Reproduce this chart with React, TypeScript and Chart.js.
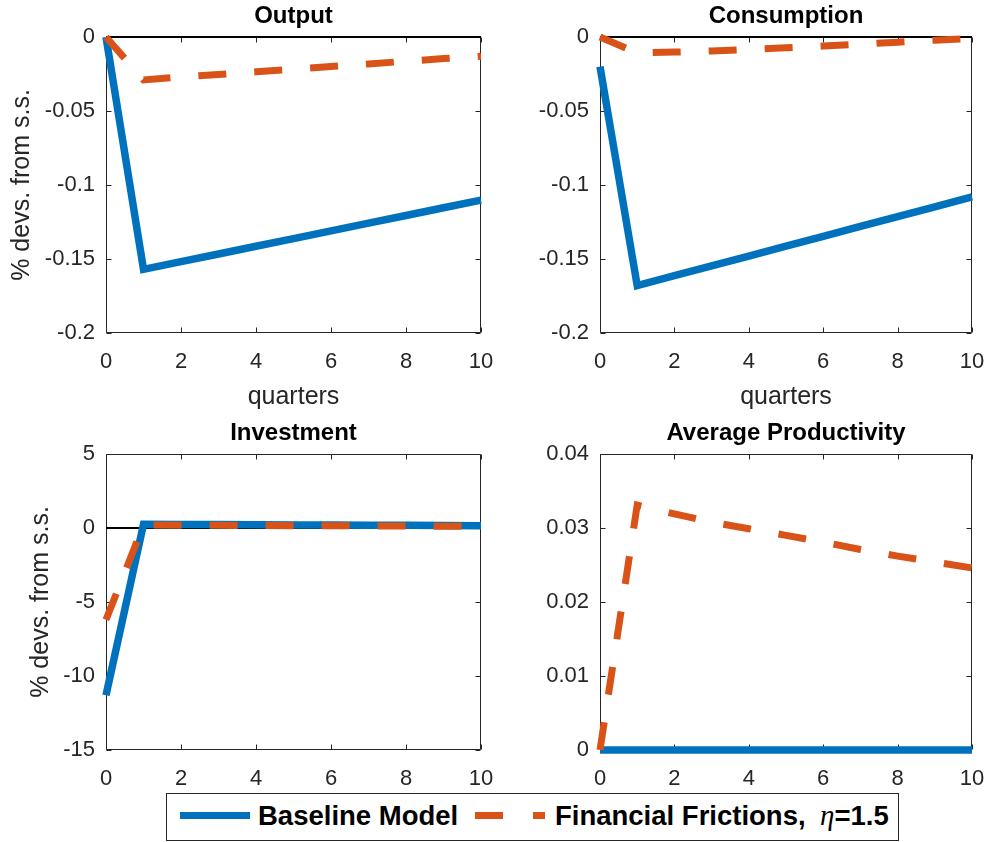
import React, { useEffect, useRef } from "react";
import { Chart, registerables } from "chart.js";

Chart.register(...registerables);

// ---------------- data ----------------
const quarters = [0, 1, 2, 3, 4, 5, 6, 7, 8, 9, 10];
const xTickValues = [0, 2, 4, 6, 8, 10];
const xTickLabels = ["0", "2", "4", "6", "8", "10"];

const outputBaseline = [0, -0.157, -0.1518, -0.1466, -0.1414, -0.1362, -0.131, -0.1258, -0.1206, -0.1154, -0.1102];
const outputFF = [0, -0.029, -0.027, -0.0253, -0.0235, -0.0218, -0.02, -0.0182, -0.0164, -0.0146, -0.013];

const consumptionBaseline = [-0.02, -0.168, -0.1613, -0.1547, -0.148, -0.1413, -0.1347, -0.128, -0.1213, -0.1147, -0.108];
const consumptionFF = [0, -0.0108, -0.0102, -0.0094, -0.0084, -0.0073, -0.0061, -0.0048, -0.0035, -0.0022, -0.001];

const investmentBaseline = [-11.3, 0.25, 0.24, 0.23, 0.22, 0.21, 0.2, 0.19, 0.18, 0.17, 0.16];
const investmentFF = [-6.2, 0.2, 0.19, 0.18, 0.17, 0.16, 0.15, 0.14, 0.13, 0.12, 0.11];

const productivityBaseline = [0, 0, 0, 0, 0, 0, 0, 0, 0, 0, 0];
const productivityFF = [0, 0.0331, 0.0319, 0.0308, 0.0299, 0.029, 0.0281, 0.0271, 0.0262, 0.0254, 0.0246];

const outputYTicks = [-0.2, -0.15, -0.1, -0.05, 0];
const outputYLabels = ["-0.2", "-0.15", "-0.1", "-0.05", "0"];
const consumptionYTicks = [-0.2, -0.15, -0.1, -0.05, 0];
const consumptionYLabels = ["-0.2", "-0.15", "-0.1", "-0.05", "0"];
const investmentYTicks = [-15, -10, -5, 0, 5];
const investmentYLabels = ["-15", "-10", "-5", "0", "5"];
const productivityYTicks = [0, 0.01, 0.02, 0.03, 0.04];
const productivityYLabels = ["0", "0.01", "0.02", "0.03", "0.04"];

const panelTitles = ["Output", "Consumption", "Investment", "Average Productivity"];
const xAxisTitle = "quarters";
const yAxisTitle = "% devs. from s.s.";
const seriesNames = ["Baseline Model", "Financial Frictions, "];
const etaLabel = "η";
const etaValue = "=1.5";

// ---------------- style ----------------
const BLUE = "#0072BD";
const ORANGE = "#D95319";
const AXIS = "#262626";
const FONT = "'Liberation Sans', Arial, Helvetica, sans-serif";

type Panel = {
  title: string;
  baseline: number[];
  ff: number[];
  yTicks: number[];
  yLabels: string[];
  showXTitle: boolean;
  showYTitle: boolean;
  yTitlePad: number;
  left: number;
  top: number;
  width: number;
  height: number;
  yAxisWidth: number;
  xAxisHeight: number;
  padRight: number;
};

const panels: Panel[] = [
  {
    title: panelTitles[0], baseline: outputBaseline, ff: outputFF,
    yTicks: outputYTicks, yLabels: outputYLabels,
    showXTitle: true, showYTitle: true, yTitlePad: 7,
    left: 0, top: 0, width: 513, height: 412, yAxisWidth: 106, xAxisHeight: 79, padRight: 32,
  },
  {
    title: panelTitles[1], baseline: consumptionBaseline, ff: consumptionFF,
    yTicks: consumptionYTicks, yLabels: consumptionYLabels,
    showXTitle: true, showYTitle: false, yTitlePad: 0,
    left: 490, top: 0, width: 514, height: 412, yAxisWidth: 110, xAxisHeight: 79, padRight: 32,
  },
  {
    title: panelTitles[2], baseline: investmentBaseline, ff: investmentFF,
    yTicks: investmentYTicks, yLabels: investmentYLabels,
    showXTitle: false, showYTitle: true, yTitlePad: 26,
    left: 0, top: 417, width: 513, height: 376, yAxisWidth: 106, xAxisHeight: 43, padRight: 32,
  },
  {
    title: panelTitles[3], baseline: productivityBaseline, ff: productivityFF,
    yTicks: productivityYTicks, yLabels: productivityYLabels,
    showXTitle: false, showYTitle: false, yTitlePad: 0,
    left: 490, top: 417, width: 514, height: 376, yAxisWidth: 110, xAxisHeight: 43, padRight: 32,
  },
];

const boxPlugin = {
  id: "matlabBox",
  beforeDatasetsDraw(chart: any) {
    const { ctx, chartArea: a, scales } = chart;
    const L = Math.round(a.left) + 0.5;
    const R = Math.round(a.right) - 0.5;
    const T = Math.round(a.top) + 0.5;
    const B = Math.round(a.bottom) - 0.5;
    const tl = 5;
    ctx.save();
    ctx.strokeStyle = AXIS;
    ctx.lineWidth = 1;
    ctx.beginPath();
    ctx.rect(L, T, R - L, B - T);
    for (const t of scales.x.ticks) {
      const px = Math.round(scales.x.getPixelForValue(t.value)) + 0.5;
      ctx.moveTo(px, B);
      ctx.lineTo(px, B - tl);
      ctx.moveTo(px, T);
      ctx.lineTo(px, T + tl);
    }
    for (const t of scales.y.ticks) {
      const py = Math.round(scales.y.getPixelForValue(t.value)) + 0.5;
      ctx.moveTo(L, py);
      ctx.lineTo(L + tl, py);
      ctx.moveTo(R, py);
      ctx.lineTo(R - tl, py);
    }
    ctx.stroke();
    ctx.restore();
  },
};

function PanelChart({ p }: { p: Panel }) {
  const ref = useRef<HTMLCanvasElement | null>(null);
  useEffect(() => {
    if (!ref.current) return;
    const pts = (arr: number[]) => quarters.map((q, i) => ({ x: q, y: arr[i] }));
    const yMin = p.yTicks[0];
    const yMax = p.yTicks[p.yTicks.length - 1];
    const chart = new Chart(ref.current, {
      type: "line",
      data: {
        datasets: [
          {
            label: "zero",
            data: [{ x: quarters[0], y: 0 }, { x: quarters[quarters.length - 1], y: 0 }],
            borderColor: "#000000",
            borderWidth: 2,
            pointRadius: 0,
            order: 3,
            clip: 10,
          },
          {
            label: seriesNames[0],
            data: pts(p.baseline),
            borderColor: BLUE,
            borderWidth: 7.5,
            pointRadius: 0,
            tension: 0,
            order: 2,
            clip: 10,
          },
          {
            label: seriesNames[1],
            data: pts(p.ff),
            borderColor: ORANGE,
            borderWidth: 7,
            borderDash: [28, 28],
            pointRadius: 0,
            tension: 0,
            order: 1,
            clip: 10,
          },
        ],
      },
      options: {
        animation: false,
        responsive: false,
        events: [],
        layout: { padding: { left: 0, top: 0, bottom: 0, right: p.padRight } },
        plugins: {
          legend: { display: false },
          tooltip: { enabled: false },
          title: {
            display: true,
            text: p.title,
            fullSize: false,
            color: "#000000",
            font: { family: FONT, size: 24, weight: "bold", lineHeight: 1.2 },
            padding: { top: 2, bottom: 6.2 },
          },
        },
        scales: {
          x: {
            type: "linear",
            min: xTickValues[0],
            max: xTickValues[xTickValues.length - 1],
            grid: { display: false, drawTicks: false },
            border: { display: false },
            afterBuildTicks: (s: any) => {
              s.ticks = xTickValues.map((v) => ({ value: v }));
            },
            afterFit: (s: any) => {
              s.height = p.xAxisHeight;
            },
            ticks: {
              autoSkip: false,
              maxRotation: 0,
              padding: 16,
              color: AXIS,
              font: { family: FONT, size: 22, lineHeight: 1.2 },
              callback: (v: any) => xTickLabels[xTickValues.indexOf(Number(v))] ?? "",
            },
            title: {
              display: p.showXTitle,
              text: xAxisTitle,
              color: AXIS,
              font: { family: FONT, size: 25, lineHeight: 1.2 },
              padding: { top: 0, bottom: 0 },
            },
          },
          y: {
            type: "linear",
            min: yMin,
            max: yMax,
            grid: { display: false, drawTicks: false },
            border: { display: false },
            afterBuildTicks: (s: any) => {
              s.ticks = p.yTicks.map((v) => ({ value: v }));
            },
            afterFit: (s: any) => {
              s.width = p.yAxisWidth;
            },
            ticks: {
              autoSkip: false,
              padding: 11,
              color: AXIS,
              font: { family: FONT, size: 22, lineHeight: 1.2 },
              callback: (v: any) => {
                const i = p.yTicks.findIndex((t) => Math.abs(t - Number(v)) < 1e-9);
                return i >= 0 ? p.yLabels[i] : "";
              },
            },
            title: {
              display: p.showYTitle,
              text: yAxisTitle,
              color: AXIS,
              font: { family: FONT, size: 25, lineHeight: 1.2 },
              padding: { top: p.yTitlePad, bottom: 0 },
            },
          },
        },
      } as any,
      plugins: [boxPlugin],
    });
    return () => chart.destroy();
  }, [p]);
  return (
    <div style={{ position: "absolute", left: p.left, top: p.top, width: p.width, height: p.height }}>
      <canvas ref={ref} width={p.width} height={p.height} style={{ width: p.width, height: p.height, display: "block" }} />
    </div>
  );
}

function Legend() {
  const textStyle: React.CSSProperties = {
    position: "absolute",
    top: 8,
    fontFamily: FONT,
    fontWeight: "bold",
    fontSize: 27.5,
    lineHeight: "27px",
    color: "#000",
    whiteSpace: "nowrap",
  };
  return (
    <div
      style={{
        position: "absolute",
        left: 166,
        top: 793,
        width: 733,
        height: 48,
        boxSizing: "border-box",
        border: `1px solid ${AXIS}`,
        background: "#fff",
      }}
    >
      <div style={{ position: "absolute", left: 13, top: 18, width: 70, height: 7, background: BLUE }} />
      <span style={{ ...textStyle, left: 91 }}>{seriesNames[0]}</span>
      <div style={{ position: "absolute", left: 308, top: 18, width: 28, height: 7, background: ORANGE }} />
      <div style={{ position: "absolute", left: 366, top: 18, width: 12, height: 7, background: ORANGE }} />
      <span style={{ ...textStyle, left: 388 }}>{seriesNames[1]}</span>
      <span style={{ ...textStyle, left: 653 }}>
        <span style={{ fontFamily: "'Liberation Serif', 'Times New Roman', serif", fontStyle: "italic", fontWeight: "normal", fontSize: 29 }}>
          {etaLabel}
        </span>
        {etaValue}
      </span>
    </div>
  );
}

export default function App() {
  return (
    <div style={{ position: "absolute", left: 0, top: 0, width: 990, height: 842, background: "#fff", overflow: "hidden" }}>
      {panels.map((p) => (
        <PanelChart key={p.title} p={p} />
      ))}
      <Legend />
    </div>
  );
}
